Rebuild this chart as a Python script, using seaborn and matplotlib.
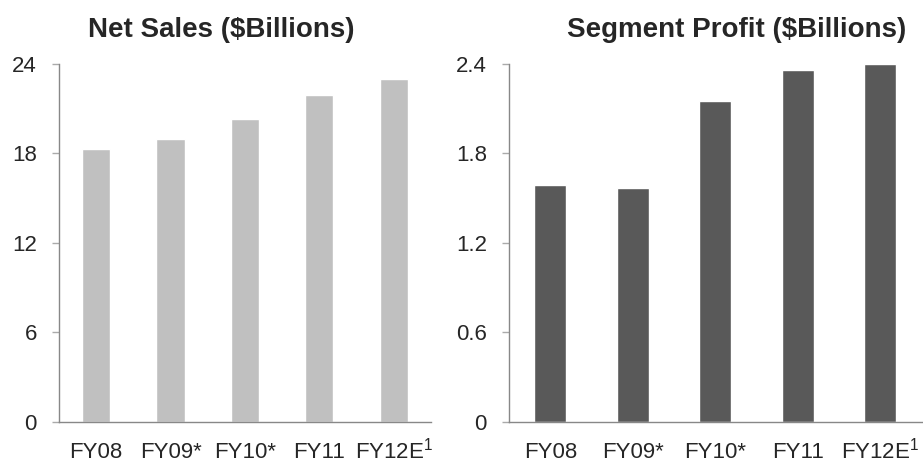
import matplotlib
matplotlib.use("Agg")
import matplotlib.pyplot as plt
import seaborn as sns
import pandas as pd
import numpy as np

years = ["FY08", "FY09*", "FY10*", "FY11", "FY12E$^{1}$"]
net_sales = [18.3, 19.0, 20.3, 21.9, 23.0]
segment_profit = [1.59, 1.57, 2.15, 2.36, 2.40]
sales_ticks = [0, 6, 12, 18, 24]
profit_ticks = [0, 0.6, 1.2, 1.8, 2.4]
profit_tick_labels = ["0", "0.6", "1.2", "1.8", "2.4"]

sns.set_style("white")
plt.rcParams["font.family"] = ["Liberation Sans", "DejaVu Sans"]
plt.rcParams["mathtext.fontset"] = "custom"
plt.rcParams["mathtext.rm"] = "Liberation Sans"
plt.rcParams["mathtext.it"] = "Liberation Sans"
plt.rcParams["mathtext.default"] = "regular"

fig = plt.figure(figsize=(9.23, 4.65), dpi=100)
ax1 = fig.add_axes([0.0639, 0.0925, 0.403, 0.770])
ax2 = fig.add_axes([0.5515, 0.0925, 0.447, 0.770])

df_sales = pd.DataFrame({"year": years, "value": net_sales})
df_profit = pd.DataFrame({"year": years, "value": segment_profit})

sns.barplot(data=df_sales, x="year", y="value", color="#C0C0C0",
            saturation=1, width=0.38, ax=ax1)
sns.barplot(data=df_profit, x="year", y="value", color="#595959",
            saturation=1, width=0.39, ax=ax2)

panels = [
    (ax1, sales_ticks, [str(t) for t in sales_ticks], 24),
    (ax2, profit_ticks, profit_tick_labels, 2.4),
]
for ax, ticks, labels, top in panels:
    ax.set_ylim(0, top)
    ax.set_xlim(-0.5, len(years) - 0.5)
    ax.set_yticks(ticks)
    ax.set_yticklabels(labels, fontsize=16)
    ax.set_xlabel("")
    ax.set_ylabel("")
    ax.set_xticks(range(len(years)))
    ax.set_xticklabels(years, fontsize=16)
    for lab in ax.get_xticklabels():
        lab.set_verticalalignment("baseline")
    ax.set_xticks(np.arange(-0.5, len(years)), minor=True)
    ax.tick_params(axis="x", which="major", length=0, pad=26)
    ax.tick_params(axis="x", which="minor", length=4.5, color="#999999", width=1)
    ax.tick_params(axis="y", which="major", length=5, color="#AAAAAA", width=1,
                   pad=11, left=True)
    for side in ("top", "right"):
        ax.spines[side].set_visible(False)
    for side in ("left", "bottom"):
        ax.spines[side].set_color("#888888")
        ax.spines[side].set_linewidth(1)

fig.text(221 / 923, 0.936, "Net Sales ($Billions)", fontsize=20,
         fontweight="bold", ha="center", va="center")
fig.text(737 / 923, 0.936, "Segment Profit ($Billions)", fontsize=20,
         fontweight="bold", ha="center", va="center")

fig.savefig("out.png", dpi=100)
